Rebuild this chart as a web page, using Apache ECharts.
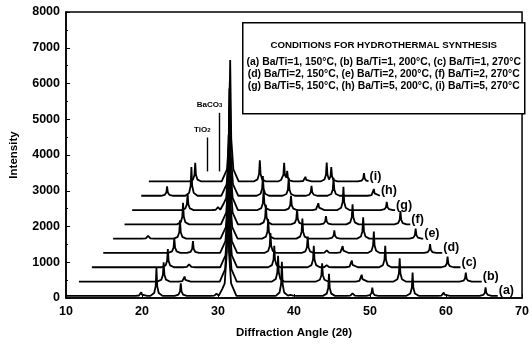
<!DOCTYPE html>
<html>
<head>
<meta charset="utf-8">
<script src="https://cdn.jsdelivr.net/npm/echarts@6/dist/echarts.min.js"></script>
<style>
  html, body { margin: 0; padding: 0; background: #fff; }
  #chart { width: 532px; height: 346px; }
</style>
</head>
<body>
<div id="chart"></div>
<script>
// axis ticks
const xTicks = [10, 20, 30, 40, 50, 60, 70];
const yTicks = [0, 1000, 2000, 3000, 4000, 5000, 6000, 7000, 8000];

// traces (a)..(i): vertical offset and where each staggered trace starts / ends
const traceNames = ['(a)', '(b)', '(c)', '(d)', '(e)', '(f)', '(g)', '(h)', '(i)'];
const baselines = [60, 460, 860, 1260, 1660, 2060, 2460, 2860, 3260];
const xStart = [10, 11.7, 13.4, 14.9, 16.2, 17.7, 18.7, 19.9, 20.9];
const xEnd = [66.8, 64.7, 61.9, 59.5, 57.0, 55.3, 53.3, 51.3, 49.8];

// peaks as drawn: [2theta, height above the trace baseline]
const peaksA = [[19.9, 100], [21.9, 780], [25.1, 350], [29.8, 60], [31.3, 3500], [38.4, 950],
  [39.6, 80], [44.6, 620], [47.7, 70], [50.3, 230], [55.6, 650], [59.7, 90], [65.2, 240]];
const peaksB = [[22.85, 540], [25.6, 140], [31.35, 3400], [37.9, 720], [43.7, 510], [48.9, 190],
  [53.9, 650], [62.6, 250]];
const peaksC = [[23.4, 510], [26.2, 80], [31.4, 3300], [37.4, 600], [42.6, 600], [44.3, 60],
  [47.6, 190], [52.0, 600], [60.2, 300]];
const peaksD = [[24.25, 420], [26.7, 330], [31.4, 3300], [36.9, 560], [41.8, 460], [44.3, 70],
  [46.4, 190], [50.5, 600], [57.9, 250]];
const peaksE = [[20.8, 80], [25.0, 510], [31.45, 3200], [36.6, 550], [41.1, 560], [45.3, 230],
  [49.1, 600], [56.0, 280]];
const peaksF = [[25.4, 600], [31.5, 3300], [36.3, 550], [40.4, 420], [44.2, 230], [47.7, 560],
  [54.0, 370]];
const peaksG = [[26.0, 450], [30.0, 80], [31.5, 3400], [36.0, 550], [39.6, 400], [43.2, 190],
  [46.5, 650], [52.2, 230]];
const peaksH = [[23.3, 260], [26.5, 800], [31.55, 3200], [35.9, 550], [39.3, 500], [42.3, 280],
  [45.2, 500], [50.5, 190]];
const peaksI = [[27.0, 520], [31.6, 3400], [35.5, 590], [38.7, 520], [39.1, 300], [41.5, 130],
  [44.3, 530], [44.9, 400], [49.2, 230]];
const tracePeaks = [peaksA, peaksB, peaksC, peaksD, peaksE, peaksF, peaksG, peaksH, peaksI];

// phase markers (arrows above trace i)
const markerNames = ['TiO2', 'BaCO3'];
const markerX = [28.6, 30.2];
const markerTop = [4490, 5180];
const markerBottom = [3540, 3540];

const legendTitle = 'CONDITIONS FOR HYDROTHERMAL SYNTHESIS';
const legendLines = [
  '(a) Ba/Ti=1, 150°C, (b) Ba/Ti=1, 200°C, (c) Ba/Ti=1, 270°C',
  '(d) Ba/Ti=2, 150°C, (e) Ba/Ti=2, 200°C, (f) Ba/Ti=2, 270°C',
  '(g) Ba/Ti=5, 150°C, (h) Ba/Ti=5, 200°C, (i) Ba/Ti=5, 270°C'
];

// cusp-like peak outline: [dx, fraction of height]
const shape = [[-0.8, 0], [-0.3, 0.1], [-0.1, 0.35], [0, 1], [0.1, 0.35], [0.3, 0.1], [0.8, 0]];

function peakAt(p, x) {
  const w = p[1] > 2000 ? 1.4 : 1;
  const d = (x - p[0]) / w;
  if (d <= shape[0][0] || d >= shape[shape.length - 1][0]) return 0;
  for (let i = 1; i < shape.length; i++) {
    if (d <= shape[i][0]) {
      const t = (d - shape[i - 1][0]) / (shape[i][0] - shape[i - 1][0]);
      return p[1] * (shape[i - 1][1] + t * (shape[i][1] - shape[i - 1][1]));
    }
  }
  return 0;
}

function traceData(k) {
  const peaks = tracePeaks[k];
  let xs = [xStart[k], xEnd[k]];
  peaks.forEach(p => {
    const w = p[1] > 2000 ? 1.4 : 1;
    shape.forEach(s => xs.push(p[0] + s[0] * w));
  });
  xs = xs.filter(x => x >= xStart[k] && x <= xEnd[k]).sort((a, b) => a - b);
  return xs.map(x => {
    let h = 0;
    peaks.forEach(p => { h = Math.max(h, peakAt(p, x)); });
    return [x, baselines[k] + h];
  });
}

const FONT = '"Liberation Sans", Arial, sans-serif';

const series = traceNames.map((name, k) => {
  const s = {
    name: name,
    type: 'line',
    data: traceData(k),
    showSymbol: false,
    symbol: 'none',
    lineStyle: {color: '#000', width: 1.8},
    endLabel: {
      show: true,
      formatter: name,
      color: '#000',
      fontFamily: FONT,
      fontWeight: 'bold',
      fontSize: 12.5,
      distance: 1,
      offset: [0, -5]
    },
    z: 3
  };
  if (k === traceNames.length - 1) {
    s.markLine = {
      silent: true,
      symbol: ['none', 'arrow'],
      symbolSize: [0, 6],
      lineStyle: {color: '#000', width: 1.4, type: 'solid'},
      label: {
        show: true,
        position: 'start',
        distance: 4,
        color: '#000',
        fontFamily: FONT,
        fontWeight: 'bold',
        formatter: p => p.name === 'TiO2' ? '{m|TiO}{s|2}' : '{m|BaCO}{s|3}',
        rich: {
          m: {fontSize: 8, fontWeight: 'bold', fontFamily: FONT, color: '#000', verticalAlign: 'top'},
          s: {fontSize: 6, fontWeight: 'bold', fontFamily: FONT, color: '#000', verticalAlign: 'bottom'}
        }
      },
      data: markerNames.map((m, j) => ([
        {name: m, coord: [markerX[j], markerTop[j]], label: {offset: [j === 0 ? -5 : -10, 0]}},
        {coord: [markerX[j], markerBottom[j]]}
      ]))
    };
  }
  return s;
});

const myChart = echarts.init(document.getElementById('chart'));
myChart.setOption({
  animation: false,
  backgroundColor: '#fff',
  grid: {
    left: 61, right: 2, top: 12, bottom: 48,
    show: true, borderColor: '#000', borderWidth: 1.5
  },
  xAxis: {
    type: 'value',
    min: xTicks[0],
    max: xTicks[xTicks.length - 1],
    interval: 10,
    name: 'Diffraction Angle (2θ)',
    nameLocation: 'middle',
    nameGap: 29,
    nameTextStyle: {color: '#000', fontFamily: FONT, fontWeight: 'bold', fontSize: 11.5},
    axisLine: {lineStyle: {color: '#000', width: 1.5}},
    axisTick: {inside: true, length: 4, lineStyle: {color: '#000'}},
    axisLabel: {color: '#000', fontFamily: FONT, fontWeight: 'bold', fontSize: 12.5, margin: 7},
    splitLine: {show: false}
  },
  yAxis: {
    type: 'value',
    min: yTicks[0],
    max: yTicks[yTicks.length - 1],
    interval: 1000,
    name: 'Intensity',
    nameLocation: 'middle',
    nameGap: 46,
    nameTextStyle: {color: '#000', fontFamily: FONT, fontWeight: 'bold', fontSize: 11.5},
    axisLine: {show: true, lineStyle: {color: '#000', width: 1.5}},
    axisTick: {show: true, inside: true, length: 4, lineStyle: {color: '#000'}},
    minorTick: {show: true, splitNumber: 2, length: 2, lineStyle: {color: '#000'}},
    axisLabel: {
      color: '#000', fontFamily: FONT, fontWeight: 'bold', fontSize: 12.5, margin: 6,
      formatter: v => String(v)
    },
    splitLine: {show: false}
  },
  graphic: [{
    type: 'group',
    left: 242,
    top: 22,
    children: [
      {type: 'rect', shape: {x: 0, y: 0, width: 282, height: 91},
        style: {fill: '#fff', stroke: '#000', lineWidth: 1.5}},
      {type: 'text', x: 141, y: 23,
        style: {text: legendTitle, textAlign: 'center', textVerticalAlign: 'middle',
          fill: '#000', font: 'bold 9.7px ' + FONT}}
    ].concat(legendLines.map((t, i) => ({
      type: 'text', x: 141, y: 39 + i * 12.4,
      style: {text: t, textAlign: 'center', textVerticalAlign: 'middle',
        fill: '#000', font: 'bold 10.4px ' + FONT}
    })))
  }],
  series: series
});
</script>
</body>
</html>
